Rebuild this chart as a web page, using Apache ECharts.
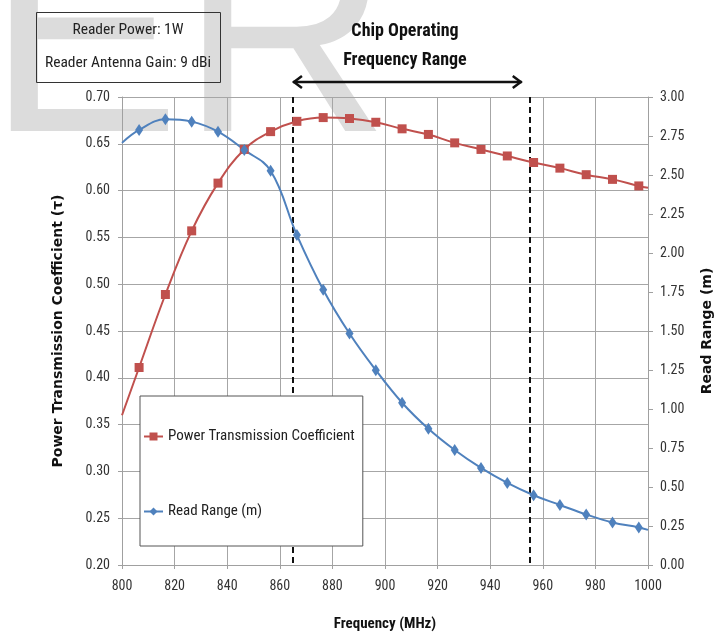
<!DOCTYPE html>
<html>
<head>
<meta charset="utf-8">
<script src="https://cdn.jsdelivr.net/npm/echarts@6/dist/echarts.min.js"></script>
<style>
  html, body { margin: 0; padding: 0; background: #fff; }
  #main { width: 728px; height: 637px; }
</style>
</head>
<body>
<div id="main"></div>
<script>
// 频率点 (MHz)，首尾两个点只画线不画标记
const freq = [800, 806.5, 816.5, 826.5, 836.5, 846.5, 856.5, 866.5, 876.5, 886.5, 896.5,
  906.5, 916.5, 926.5, 936.5, 946.5, 956.5, 966.5, 976.5, 986.5, 996.5, 1000];

// 功率传输系数 (左轴)
const powerCoef = [0.360, 0.411, 0.489, 0.557, 0.608, 0.644, 0.663, 0.674, 0.678, 0.677, 0.673,
  0.666, 0.660, 0.651, 0.644, 0.637, 0.630, 0.624, 0.617, 0.612, 0.605, 0.603];

// 读取距离 (右轴, m)
const readRange = [2.706, 2.789, 2.857, 2.842, 2.778, 2.661, 2.527, 2.115, 1.765, 1.484, 1.249,
  1.040, 0.873, 0.737, 0.622, 0.526, 0.447, 0.385, 0.324, 0.273, 0.241, 0.225];

// 芯片工作频率范围
const chipRange = [865, 955];
const arrowRange = [865, 952];

const seriesNames = ['Power Transmission Coefficient', 'Read Range (m)'];

const narrow = "'Liberation Sans Narrow', 'Roboto Condensed', 'Liberation Sans', sans-serif";
const bold = "'DejaVu Sans', sans-serif";

// 组装数据，首尾点不显示标记
function buildData(ys) {
  return freq.map((f, i) => {
    let item = { value: [f, ys[i]] };
    if (i == 0 || i == freq.length - 1) item.symbol = 'none';
    return item;
  });
}

const chart = echarts.init(document.getElementById('main'));

const option = {
  backgroundColor: '#ffffff',
  animation: false,
  grid: { left: 122, right: 80, top: 97, bottom: 71 },
  legend: {
    orient: 'vertical',
    left: 140,
    top: 396,
    padding: [33, 8, 27, 3],
    itemGap: 60,
    itemWidth: 19,
    itemHeight: 10,
    z: 20,
    backgroundColor: '#ffffff',
    borderColor: '#555',
    borderWidth: 1,
    textStyle: { fontFamily: narrow, fontSize: 15, color: '#222' },
    data: seriesNames
  },
  xAxis: {
    type: 'value',
    min: 800,
    max: 1000,
    interval: 20,
    name: 'Frequency (MHz)',
    nameLocation: 'middle',
    nameGap: 52,
    nameTextStyle: { fontFamily: narrow, fontSize: 15, fontWeight: 'bold', color: '#111' },
    axisLine: { lineStyle: { color: '#a0a0a0' } },
    axisTick: { show: true, length: 4, lineStyle: { color: '#a0a0a0' } },
    axisLabel: { fontFamily: narrow, fontSize: 14, color: '#333', margin: 14,
      formatter: v => String(v) },
    splitLine: { lineStyle: { color: '#a6a6a6' } }
  },
  yAxis: [{
    type: 'value',
    min: 0.2,
    max: 0.7,
    interval: 0.05,
    name: 'Power Transmission Coefficient (τ)',
    nameLocation: 'middle',
    nameGap: 57,
    nameTextStyle: { fontFamily: bold, fontSize: 14, fontWeight: 'bold', color: '#111' },
    axisLine: { show: true, lineStyle: { color: '#a0a0a0' } },
    axisTick: { show: true, length: 4, lineStyle: { color: '#a0a0a0' } },
    axisLabel: { fontFamily: narrow, fontSize: 14, color: '#333', margin: 12,
      formatter: v => v.toFixed(2) },
    splitLine: { lineStyle: { color: '#a6a6a6' } }
  }, {
    type: 'value',
    min: 0,
    max: 3,
    interval: 0.25,
    name: 'Read Range (m)',
    nameLocation: 'middle',
    nameGap: 52,
    nameTextStyle: { fontFamily: bold, fontSize: 14, fontWeight: 'bold', color: '#111' },
    axisLine: { show: true, lineStyle: { color: '#a0a0a0' } },
    axisTick: { show: true, length: 5, lineStyle: { color: '#a0a0a0' } },
    axisLabel: { fontFamily: narrow, fontSize: 14, color: '#333', margin: 12,
      formatter: v => v.toFixed(2) },
    splitLine: { show: false }
  }],
  series: [{
    name: seriesNames[0],
    type: 'line',
    yAxisIndex: 0,
    z: 2,
    smooth: 0.4,
    symbol: 'rect',
    symbolSize: 9,
    color: '#c0504d',
    lineStyle: { width: 2, color: '#c0504d' },
    data: buildData(powerCoef)
  }, {
    name: seriesNames[1],
    type: 'line',
    yAxisIndex: 1,
    z: 2,
    smooth: 0.4,
    symbol: 'diamond',
    symbolSize: [8, 12],
    color: '#4f81bd',
    lineStyle: { width: 2, color: '#4f81bd' },
    data: buildData(readRange)
  }]
};

chart.setOption(option);

// 频率范围虚线、箭头与注释，位置由坐标轴换算
let ax1 = chart.convertToPixel({ xAxisIndex: 0 }, arrowRange[0]);
let ax2 = chart.convertToPixel({ xAxisIndex: 0 }, arrowRange[1]);
let yTop = chart.convertToPixel({ yAxisIndex: 0 }, 0.7);
let yBottom = chart.convertToPixel({ yAxisIndex: 0 }, 0.2);
let arrowY = 82;

let dashLines = chipRange.map(v => {
  let px = Math.round(chart.convertToPixel({ xAxisIndex: 0 }, v));
  return {
    type: 'line', z: 1, silent: true,
    shape: { x1: px, y1: yTop, x2: px, y2: yBottom },
    style: { stroke: '#111', lineWidth: 2, lineDash: [6, 4] }
  };
});

chart.setOption({
  graphic: [
    // 背景水印
    {
      type: 'text', z: -10, silent: true,
      style: { text: 'ER', x: -13, y: 51, fill: '#dcdcdc',
        font: "290px 'Liberation Sans', Arial, sans-serif",
        textAlign: 'left', textVerticalAlign: 'middle' }
    },
    ...dashLines,
    // 左上角参数框
    {
      type: 'rect', z: 1, silent: true,
      shape: { x: 36.5, y: 12.5, width: 184, height: 70 },
      style: { fill: 'transparent', stroke: '#333', lineWidth: 1 }
    },
    {
      type: 'text', z: 2, silent: true,
      style: { text: 'Reader Power: 1W', x: 128, y: 30, fill: '#222',
        font: "15.5px " + narrow, textAlign: 'center', textVerticalAlign: 'middle' }
    },
    {
      type: 'text', z: 2, silent: true,
      style: { text: 'Reader Antenna Gain: 9 dBi', x: 128, y: 63, fill: '#222',
        font: "15.5px " + narrow, textAlign: 'center', textVerticalAlign: 'middle' }
    },
    // 芯片工作频率范围标题
    {
      type: 'text', z: 2, silent: true,
      style: { text: 'Chip Operating', x: 405, y: 31, fill: '#111',
        font: "bold 18px " + narrow, textAlign: 'center', textVerticalAlign: 'middle' }
    },
    {
      type: 'text', z: 2, silent: true,
      style: { text: 'Frequency Range', x: 405, y: 60, fill: '#111',
        font: "bold 18px " + narrow, textAlign: 'center', textVerticalAlign: 'middle' }
    },
    {
      type: 'line', z: 2, silent: true,
      shape: { x1: ax1, y1: arrowY, x2: ax2, y2: arrowY },
      style: { stroke: '#111', lineWidth: 2.5 }
    },
    {
      type: 'polyline', z: 2, silent: true,
      shape: { points: [[ax1 + 9, arrowY - 6], [ax1 + 1, arrowY], [ax1 + 9, arrowY + 6]] },
      style: { stroke: '#111', lineWidth: 2.5, fill: 'none' }
    },
    {
      type: 'polyline', z: 2, silent: true,
      shape: { points: [[ax2 - 9, arrowY - 6], [ax2 - 1, arrowY], [ax2 - 9, arrowY + 6]] },
      style: { stroke: '#111', lineWidth: 2.5, fill: 'none' }
    }
  ]
});
</script>
</body>
</html>
